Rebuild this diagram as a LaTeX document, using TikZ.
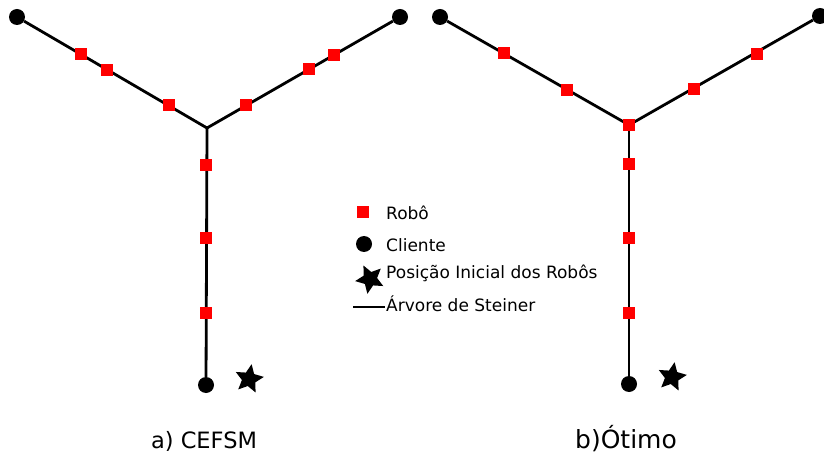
\documentclass[tikz,border=0pt]{standalone}
\usepackage{fontspec}
\setmainfont{DejaVu Sans}
\usetikzlibrary{shapes.geometric}
\tikzset{
  cliente/.style={circle, fill=black, inner sep=0pt, minimum size=16pt},
  robo/.style={rectangle, fill=red, inner sep=0pt, minimum size=12pt},
  inicio/.style={star, star points=5, star point ratio=2.1, fill=black, inner sep=0pt, minimum size=30pt},
  arvore/.style={line width=2.8pt},
  legenda/.style={anchor=west, font=\fontsize{17}{20}\selectfont, inner sep=0pt},
  titulo/.style={anchor=base, inner sep=0pt}
}
\begin{document}
\begin{tikzpicture}[x=1pt, y=-1pt]
\useasboundingbox (0,0) rectangle (824,454);
% a) arvore do CEFSM
\coordinate (ja) at (207,128);
\node[cliente] (ca1) at (17,17) {};
\node[cliente] (ca2) at (400,17) {};
\node[cliente] (ca3) at (206,385) {};
\draw[arvore] (ca1) -- (ja);
\draw[arvore] (ca2) -- (ja);
\draw[arvore] (ca3) -- (ja);
\node[robo] (ra1) at (81,54) {};
\node[robo] (ra2) at (107,70) {};
\node[robo] (ra3) at (169,105) {};
\node[robo] (ra4) at (246,105) {};
\node[robo] (ra5) at (309,69) {};
\node[robo] (ra6) at (334,55) {};
\node[robo] (ra7) at (206,165) {};
\node[robo] (ra8) at (206,238) {};
\node[robo] (ra9) at (206,313) {};
\node[inicio, rotate=-10] (sa) at (249,379) {};
\node[titulo, font=\fontsize{22.5}{26}\selectfont] (ta) at (204,448) {a) CEFSM};
% b) arvore otima
\coordinate (jb) at (629,125);
\node[cliente] (cb1) at (440,17) {};
\node[cliente] (cb2) at (820,16) {};
\node[cliente] (cb3) at (629,384) {};
\draw[arvore] (cb1) -- (jb);
\draw[arvore] (cb2) -- (jb);
\draw[arvore] (cb3) -- (jb);
\node[robo] (rb1) at (504,53) {};
\node[robo] (rb2) at (567,90) {};
\node[robo] (rb3) at (629,125) {};
\node[robo] (rb4) at (694,89) {};
\node[robo] (rb5) at (757,54) {};
\node[robo] (rb6) at (629,164) {};
\node[robo] (rb7) at (629,238) {};
\node[robo] (rb8) at (629,313) {};
\node[inicio, rotate=-10] (sb) at (672,377) {};
\node[titulo, font=\fontsize{25}{29}\selectfont] (tb) at (626,448) {b)Ótimo};
% legenda
\node[robo] (lr) at (363,212) {};
\node[cliente] (lc) at (364,244) {};
\node[inicio, rotate=170] (ls) at (370,279) {};
\coordinate (l1) at (353,307);
\coordinate (l2) at (385,307);
\draw[arvore] (l1) -- (l2);
\node[legenda] at (386,213) {Robô};
\node[legenda] at (386,245) {Cliente};
\node[legenda] at (386,273) {Posição Inicial dos Robôs};
\node[legenda] at (386,304) {Árvore de Steiner};
\end{tikzpicture}
\end{document}
